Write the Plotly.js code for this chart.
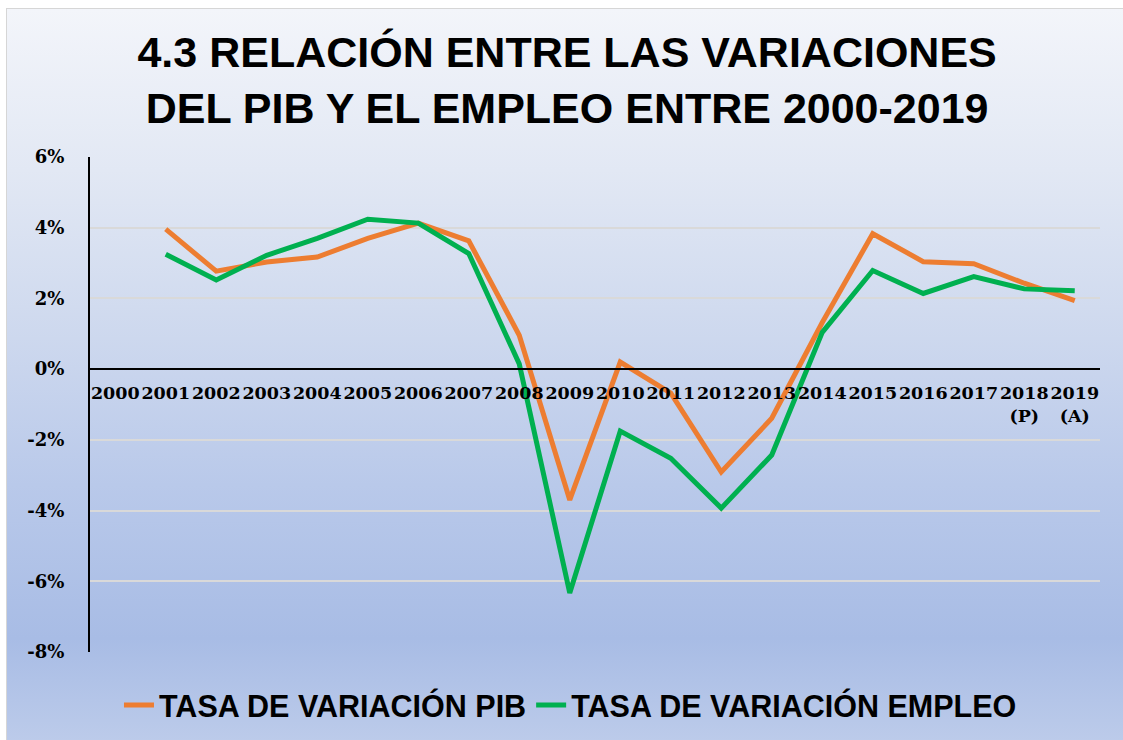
<!DOCTYPE html>
<html>
<head>
<meta charset="utf-8">
<script src="https://cdn.plot.ly/plotly-3.0.1.min.js"></script>
<style>
  html, body { margin: 0; padding: 0; width: 1123px; height: 740px; background: #ffffff; overflow: hidden; }
  #frame {
    position: absolute; left: 6px; top: 8px; width: 1117px; height: 732px;
    border-left: 1px solid #d6d6d6; border-top: 1px solid #d6d6d6;
    background: linear-gradient(to bottom, #f3f5fa 0%, #e2e8f4 22%, #cdd8ee 45%, #b9c9ea 65%, #a8bce5 86%, #bccbea 100%);
  }
  #chart { position: absolute; left: 0; top: 0; width: 1123px; height: 740px; }
</style>
</head>
<body>
<div id="frame"></div>
<div id="chart"></div>
<script>
// Categories (years) and tick labels
const years = ['2000','2001','2002','2003','2004','2005','2006','2007','2008','2009',
               '2010','2011','2012','2013','2014','2015','2016','2017','2018','2019'];
const xTickLabels = ['2000','2001','2002','2003','2004','2005','2006','2007','2008','2009',
               '2010','2011','2012','2013','2014','2015','2016','2017','2018<br>(P)','2019<br>(A)'];

// Series values (%)
const tasaPIB = [null, 3.96, 2.77, 3.03, 3.17, 3.70, 4.13, 3.63, 0.96, -3.70,
                 0.20, -0.68, -2.91, -1.39, 1.32, 3.83, 3.04, 2.98, 2.43, 1.94];
const tasaEmpleo = [null, 3.25, 2.52, 3.22, 3.70, 4.24, 4.13, 3.27, 0.15, -6.33,
                 -1.75, -2.52, -3.93, -2.43, 1.04, 2.79, 2.14, 2.62, 2.27, 2.22];

// Y tick labels
const yTickVals = [-8, -6, -4, -2, 0, 2, 4, 6];
const yTickText = ['-8%', '-6%', '-4%', '-2%', '0%', '2%', '4%', '6%'];

const seriesNames = ['TASA DE VARIACIÓN PIB', 'TASA DE VARIACIÓN EMPLEO'];
const titleText = '4.3 RELACIÓN ENTRE LAS VARIACIONES<br>DEL PIB Y EL EMPLEO ENTRE 2000-2019';

const TITLE_FONT = '"Liberation Sans", Arial, sans-serif';
const WIDE_SERIF = '"DejaVu Serif", serif';

const traces = [
  { x: years, y: tasaPIB, name: seriesNames[0], type: 'scatter', mode: 'lines',
    line: { color: '#ED7D31', width: 5 } },
  { x: years, y: tasaEmpleo, name: seriesNames[1], type: 'scatter', mode: 'lines',
    line: { color: '#00B050', width: 5 } }
];

const layout = {
  width: 1123, height: 740,
  paper_bgcolor: 'rgba(0,0,0,0)', plot_bgcolor: 'rgba(0,0,0,0)',
  margin: { l: 90, r: 23, t: 157, b: 88 },
  title: {
    text: titleText,
    font: { family: TITLE_FONT, size: 43, color: '#000', weight: 'bold' },
    xref: 'container', x: 0.505, xanchor: 'center',
    yref: 'container', y: 0.91, yanchor: 'middle'
  },
  xaxis: {
    type: 'category',
    range: [-0.5, 19.5],
    tickvals: years, ticktext: xTickLabels,
    tickangle: 0,
    anchor: 'free', position: 8 / 14,
    showline: true, linecolor: '#000', linewidth: 2,
    showgrid: false, zeroline: false, ticks: '',
    ticklabelstandoff: 8,
    tickfont: { family: WIDE_SERIF, size: 17.5, color: '#000', weight: 'bold' }
  },
  yaxis: {
    range: [-8, 6],
    tickvals: yTickVals, ticktext: yTickText,
    showline: true, linecolor: '#000', linewidth: 2,
    showgrid: true, gridcolor: '#d9d9d9', gridwidth: 2,
    zeroline: false, ticks: '',
    ticklabelstandoff: 20,
    tickfont: { family: WIDE_SERIF, size: 18, color: '#000', weight: 'bold' }
  },
  showlegend: true,
  legend: {
    orientation: 'h',
    xref: 'container', x: 0.508, xanchor: 'center',
    yref: 'container', y: 0.047, yanchor: 'middle',
    bgcolor: 'rgba(0,0,0,0)',
    font: { family: TITLE_FONT, size: 30.5, color: '#000', weight: 'bold' }
  }
};

Plotly.newPlot('chart', traces, layout, { displayModeBar: false, staticPlot: true });
</script>
</body>
</html>
